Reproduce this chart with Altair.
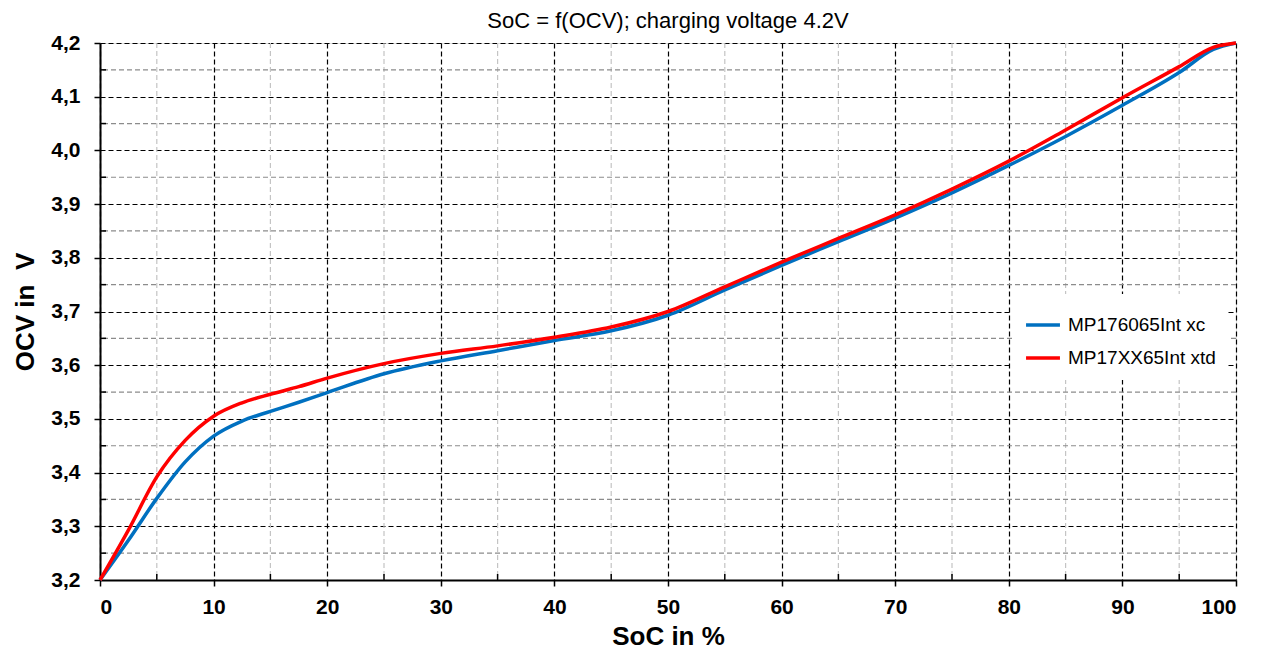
import altair as alt
import pandas as pd

# ---- data ----
soc = [0, 2.5, 5, 7.5, 10, 12.5, 15, 17.5, 20, 25, 30, 35, 40, 45, 50,
       55, 60, 65, 70, 75, 80, 85, 90, 95, 98, 100]
ocv_blue = [3.200, 3.274, 3.352, 3.420, 3.468, 3.496, 3.514, 3.531, 3.549, 3.584,
            3.608, 3.627, 3.646, 3.664, 3.693, 3.740, 3.786, 3.830, 3.874, 3.921,
            3.972, 4.026, 4.084, 4.145, 4.188, 4.200]
ocv_red = [3.200, 3.293, 3.392, 3.460, 3.505, 3.530, 3.546, 3.560, 3.576, 3.603,
           3.622, 3.636, 3.652, 3.671, 3.700, 3.746, 3.792, 3.836, 3.880, 3.928,
           3.980, 4.038, 4.098, 4.156, 4.192, 4.200]
series_names = ["MP176065Int xc", "MP17XX65Int xtd"]
series_colors = ["#0070C0", "#FF0000"]

x_major = [0, 10, 20, 30, 40, 50, 60, 70, 80, 90, 100]
x_minor = [5, 15, 25, 35, 45, 55, 65, 75, 85, 95]
y_major = [3.2, 3.3, 3.4, 3.5, 3.6, 3.7, 3.8, 3.9, 4.0, 4.1, 4.2]
y_minor = [3.25, 3.35, 3.45, 3.55, 3.65, 3.75, 3.85, 3.95, 4.05, 4.15]

title_text = "SoC = f(OCV); charging voltage 4.2V"
x_title = "SoC in %"
y_title = "OCV in\u00a0 V"

W, H = 1136, 537
FONT = "Liberation Sans"

df = pd.DataFrame({
    "soc": soc * 2,
    "ocv": ocv_blue + ocv_red,
    "series": [series_names[0]] * len(soc) + [series_names[1]] * len(soc),
})
df_xminor = pd.DataFrame({"soc": x_minor})
df_yminor = pd.DataFrame({"ocv": y_minor})
df_title = pd.DataFrame({"t": [title_text]})

X = alt.X("soc:Q", scale=alt.Scale(domain=[0, 100], nice=False, zero=False),
          axis=alt.Axis(values=x_major, format="d", title=x_title,
                        grid=True, gridColor="black", gridDash=[5, 3], gridWidth=1.2,
                        tickSize=6, tickColor="black", tickWidth=1.5,
                        domainColor="black", domainWidth=2,
                        labelFont=FONT, labelFontSize=21, labelFontWeight="bold",
                        labelColor="black", labelPadding=10,
                        titleFont=FONT, titleFontSize=26, titleFontWeight="bold",
                        titleColor="black", titlePadding=6))
Y = alt.Y("ocv:Q", scale=alt.Scale(domain=[3.2, 4.2], nice=False, zero=False),
          axis=alt.Axis(values=y_major, title=y_title,
                        labelExpr="replace(format(datum.value, '.1f'), '.', ',')",
                        grid=True, gridColor="black", gridDash=[5, 3], gridWidth=1.2,
                        tickSize=6, tickColor="black", tickWidth=1.5,
                        domainColor="black", domainWidth=2,
                        labelFont=FONT, labelFontSize=21, labelFontWeight="bold",
                        labelColor="black", labelPadding=14,
                        titleFont=FONT, titleFontSize=26, titleFontWeight="bold",
                        titleColor="black", titlePadding=12))

minor_v = alt.Chart(df_xminor).mark_rule(color="#c4c4c4", strokeDash=[5, 3], strokeWidth=1.2).encode(x=X)
minor_h = alt.Chart(df_yminor).mark_rule(color="#8c8c8c", strokeDash=[5, 3], strokeWidth=1.2).encode(y=Y)
tick_x = alt.Chart(df_xminor).mark_rule(color="black", strokeWidth=1.5).encode(
    x=X, y=alt.value(H), y2=alt.value(H - 6))
tick_y = alt.Chart(df_yminor).mark_rule(color="black", strokeWidth=1.5).encode(
    y=Y, x=alt.value(0), x2=alt.value(6))

lines = alt.Chart(df).mark_line(strokeWidth=3.5, interpolate="monotone").encode(
    x=X, y=Y,
    color=alt.Color("series:N",
                    scale=alt.Scale(domain=series_names, range=series_colors),
                    sort=series_names,
                    legend=alt.Legend(title=None, orient="none", legendX=912, legendY=251,
                                      symbolType="stroke", symbolSize=1150,
                                      symbolStrokeWidth=3.5, labelFont=FONT,
                                      labelFontSize=19, labelColor="black",
                                      labelOffset=6, rowPadding=4, padding=12,
                                      fillColor="white")),
)

title = alt.Chart(df_title).mark_text(font=FONT, fontSize=22, color="black",
                                      align="center", baseline="alphabetic").encode(
    x=alt.value(W / 2), y=alt.value(-15), text="t:N")

chart = alt.layer(minor_v, minor_h, tick_x, tick_y, lines, title).properties(
    width=W, height=H,
    autosize="none",
    padding={"left": 92, "top": 35, "right": 20, "bottom": 74},
).configure_view(stroke="black", strokeWidth=2).configure(background="white")

chart.save("out.html", embed_options={"renderer": "svg", "actions": False})
